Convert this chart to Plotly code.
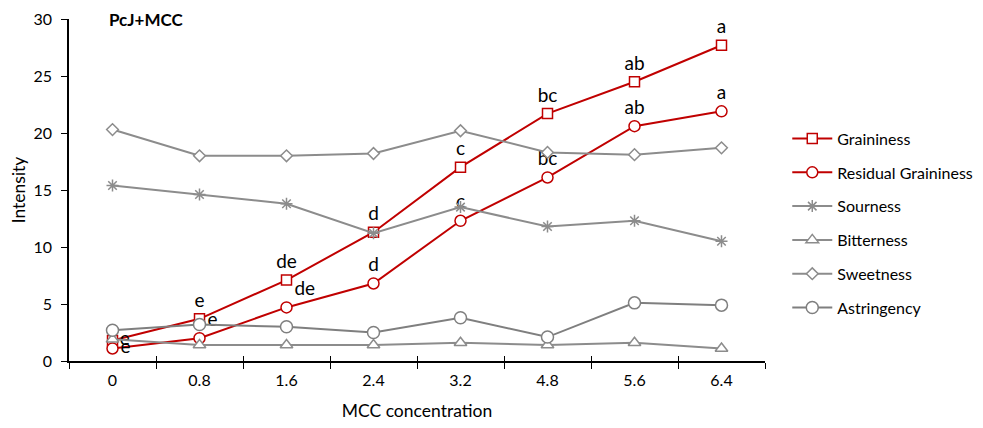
import plotly.graph_objects as go

categories = ["0", "0.8", "1.6", "2.4", "3.2", "4.8", "5.6", "6.4"]
graininess = [1.8, 3.7, 7.1, 11.3, 17.0, 21.7, 24.5, 27.7]
residual = [1.1, 2.0, 4.7, 6.8, 12.3, 16.1, 20.6, 21.9]
sourness = [15.4, 14.6, 13.8, 11.2, 13.5, 11.8, 12.3, 10.5]
bitterness = [1.9, 1.4, 1.4, 1.4, 1.6, 1.4, 1.6, 1.1]
sweetness = [20.3, 18.0, 18.0, 18.2, 20.2, 18.3, 18.1, 18.7]
astringency = [2.7, 3.2, 3.0, 2.5, 3.8, 2.1, 5.1, 4.9]
grain_letters = ["e", "e", "de", "d", "c", "bc", "ab", "a"]
resid_letters = ["e", "e", "de", "d", "c", "bc", "ab", "a"]

RED = "#C00000"
GREY = "#8C8C8C"
FONT = "Lato"

fig = go.Figure()

def add(name, y, color, symbol, size, text=None, textpos=None, mcolor="white"):
    fig.add_trace(go.Scatter(
        x=categories, y=y, name=name, legendgroup=name,
        mode="lines+markers+text" if text else "lines+markers",
        line=dict(color=color, width=2),
        marker=dict(symbol=symbol, size=size, color=mcolor,
                    line=dict(color=color, width=1.5)),
        text=text, textposition=textpos,
        textfont=dict(family=FONT, size=19, color="black"),
        cliponaxis=False,
    ))

add("Graininess", graininess, RED, "square", 10, grain_letters,
    ["middle right"] + ["top center"] * 7)
add("Residual Graininess", residual, RED, "circle", 11, resid_letters,
    ["middle right", "top right", "top right", "top center", "top center",
     "top center", "top center", "top center"])
add("Sourness", sourness, GREY, "asterisk-open", 10, mcolor=GREY)
add("Bitterness", bitterness, GREY, "triangle-up", 11)
add("Sweetness", sweetness, GREY, "diamond", 9)
add("Astringency", astringency, "#7F7F7F", "circle", 12)

# helper trace for the inner half of the crossing x ticks
fig.add_trace(go.Scatter(x=categories, y=[None] * len(categories),
                         xaxis="x2", showlegend=False, hoverinfo="skip"))

fig.update_layout(
    width=983, height=428,
    margin=dict(l=61, r=226, t=11, b=75, autoexpand=False),
    plot_bgcolor="white", paper_bgcolor="white",
    font=dict(family=FONT, size=16, color="black"),
    legend=dict(x=1.032, y=0.70, xanchor="left", yanchor="top",
                font=dict(size=16), tracegroupgap=10, itemwidth=40),
    xaxis=dict(
        type="category", tickson="boundaries", ticks="outside", ticklen=6,
        tickcolor="black", showline=True, linecolor="black", linewidth=1.5,
        showgrid=False, range=[-0.5, 7.5], automargin=False,
        ticklabelstandoff=4,
        title=dict(text="MCC concentration", font=dict(size=17.5), standoff=17),
    ),
    xaxis2=dict(
        type="category", overlaying="x", anchor="y", side="bottom",
        matches="x", tickson="boundaries", ticks="inside", ticklen=5,
        tickcolor="black", showticklabels=False, showline=False,
        showgrid=False, range=[-0.5, 7.5], automargin=False,
    ),
    yaxis=dict(
        range=[0, 30], dtick=5, ticks="outside", ticklen=6, tickcolor="black",
        showline=True, linecolor="black", linewidth=1.5, showgrid=False,
        zeroline=False, automargin=False, ticklabelstandoff=6,
        title=dict(text="Intensity", font=dict(size=17.5), standoff=10),
    ),
    annotations=[dict(text="<b>PcJ+MCC</b>", xref="paper", yref="paper",
                      x=0.054, y=1.0, xanchor="left", yanchor="middle",
                      showarrow=False, font=dict(size=17))],
)

fig.write_html("out.html")
